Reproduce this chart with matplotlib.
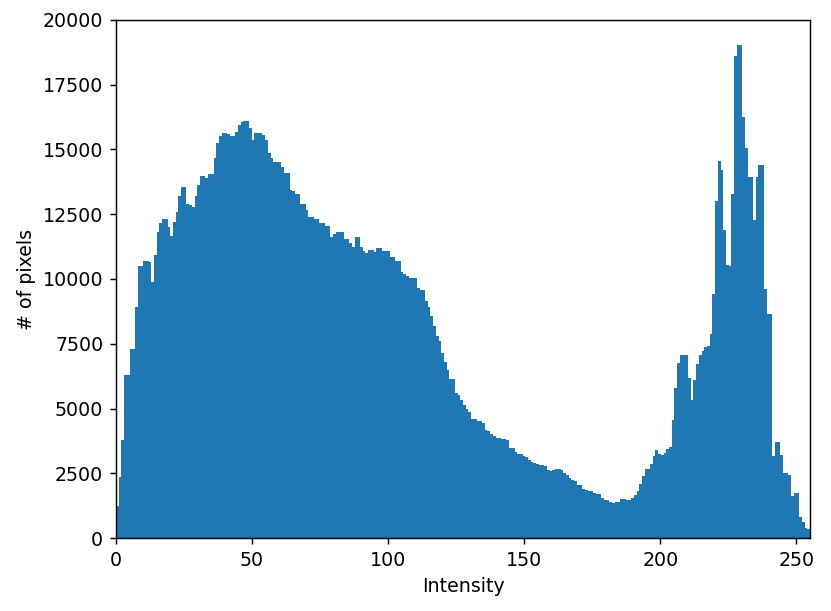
import numpy as np
import matplotlib
matplotlib.use('Agg')
import matplotlib.pyplot as plt

# pixel counts per intensity level 0..255
counts = [
    1225, 2346, 3777, 6277, 6277, 7309, 7309, 8933, 10518, 10518,
    10686, 10686, 10647, 9900, 10931, 11807, 12155, 12310, 12310, 12000,
    11678, 12194, 12581, 13212, 13547, 13547, 12890, 12864, 12774, 13200,
    13612, 13986, 13986, 13908, 14063, 14063, 14669, 15262, 15507, 15636,
    15636, 15597, 15507, 15507, 15687, 15958, 16048, 16112, 16112, 15842,
    15352, 15623, 15623, 15623, 15571, 15352, 14862, 14669, 14514, 14514,
    14514, 14308, 14089, 14089, 13418, 13380, 13264, 13264, 12903, 12903,
    12671, 12387, 12387, 12310, 12310, 12181, 12181, 12052, 12052, 11640,
    11750, 11807, 11807, 11807, 11537, 11537, 11408, 11253, 11614, 11614,
    11253, 11086, 10995, 11124, 11124, 11034, 11188, 11188, 11086, 11098,
    11098, 10866, 10866, 10711, 10711, 10286, 10196, 10119, 10029, 10029,
    10029, 9668, 9577, 9577, 9152, 8933, 8572, 8185, 7798, 7590,
    7140, 6810, 6470, 6123, 6123, 5607, 5517, 5324, 5130, 4975,
    4872, 4576, 4576, 4512, 4512, 4447, 4189, 4125, 4009, 3932,
    3880, 3880, 3841, 3841, 3777, 3493, 3493, 3326, 3236, 3236,
    3184, 3132, 3003, 2939, 2900, 2874, 2810, 2810, 2771, 2617,
    2600, 2620, 2650, 2650, 2617, 2527, 2424, 2333, 2230, 2191,
    2063, 2037, 1908, 1843, 1805, 1805, 1740, 1714, 1714, 1547,
    1482, 1456, 1405, 1366, 1405, 1405, 1508, 1508, 1482, 1456,
    1560, 1650, 1818, 2101, 2385, 2681, 2681, 2874, 3171, 3416,
    3261, 3223, 3300, 3450, 3519, 4550, 5775, 6742, 7064, 7064,
    7064, 6163, 5324, 6097, 6703, 7064, 7218, 7386, 7400, 7876,
    9410, 12993, 14566, 14205, 11898, 10544, 10505, 13290, 18626, 19052,
    19052, 16254, 15056, 13934, 13934, 12284, 13934, 14411, 14411, 9603,
    8649, 8649, 3158, 3712, 3712, 3223, 2514, 2514, 2449, 1611,
    1740, 1740, 800, 620, 400, 330,
]
levels = np.arange(256)
edges = np.linspace(0, 255, 257)

plt.rcParams['font.size'] = 10.5

fig = plt.figure(figsize=(831/130, 611/130), dpi=130)
ax = fig.add_axes([116/831, (611-538)/611, (810-116)/831, (538-20)/611])
ax.hist(levels, bins=edges, weights=counts)
ax.set_xlim(0, 255)
ax.set_ylim(0, 20000)
ax.set_xlabel('Intensity')
ax.set_ylabel('# of pixels')
fig.savefig('out.png', dpi=130)
